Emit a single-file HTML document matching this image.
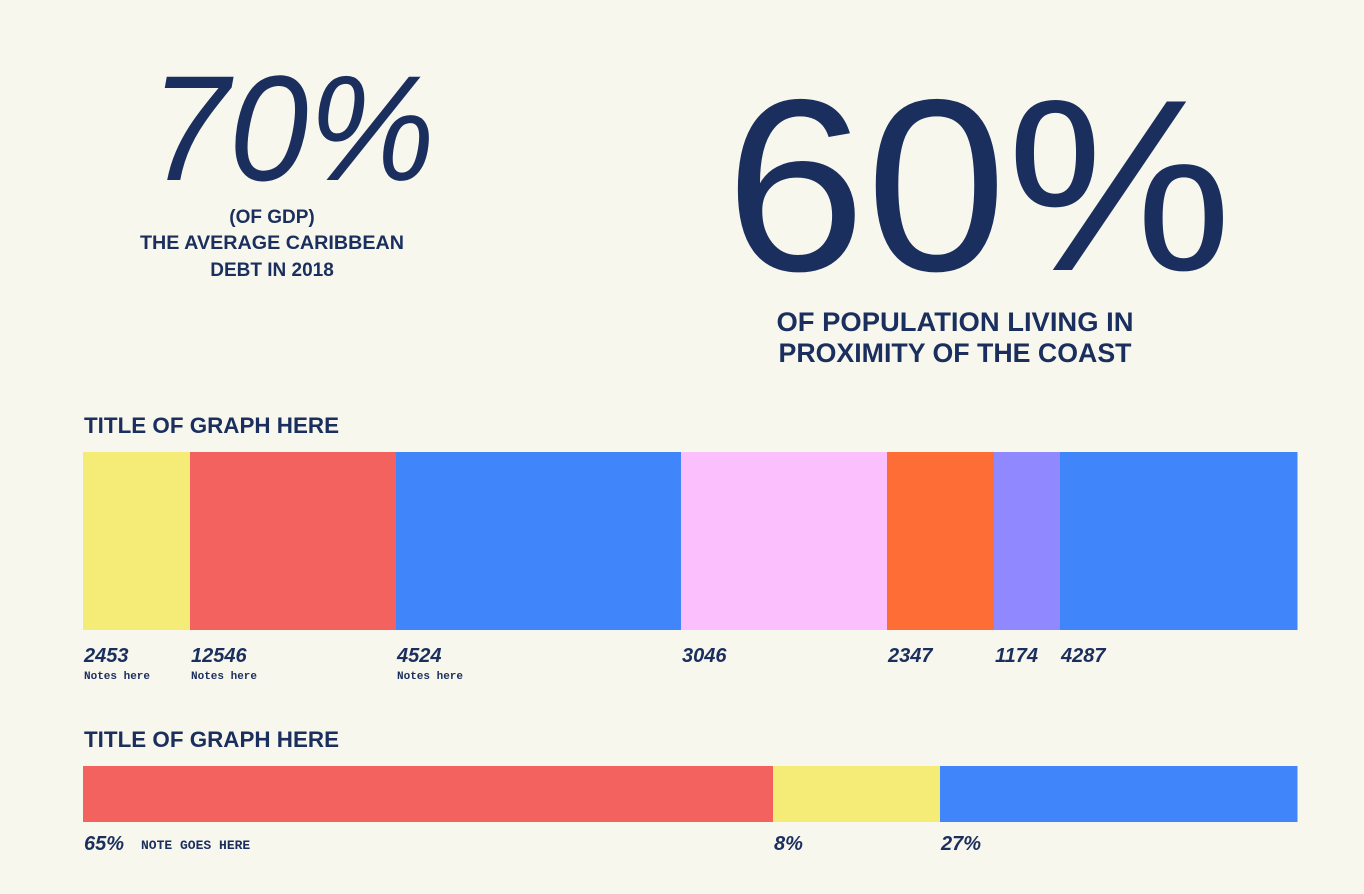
<!DOCTYPE html>
<html><head><meta charset="utf-8"><style>
html,body{margin:0;padding:0;background:#f8f7ee;}
svg{display:block;}
text{fill:#1b2f5e;font-family:"Liberation Sans",sans-serif;}
text.mono{font-family:"Liberation Mono",monospace;}
</style></head><body>
<svg id="s" width="1364" height="894" viewBox="0 0 1364 894">
<rect width="1364" height="894" fill="#f8f7ee"/>
<text x="150" y="180" font-size="150" font-style="italic" textLength="285" lengthAdjust="spacingAndGlyphs">70%</text>
<g font-weight="bold" font-size="19" text-anchor="middle">
<text x="272" y="223">(OF GDP)</text>
<text x="272" y="249" textLength="264" lengthAdjust="spacingAndGlyphs">THE AVERAGE CARIBBEAN</text>
<text x="272" y="276">DEBT IN 2018</text>
</g>
<text x="725" y="270" font-size="245" textLength="507" lengthAdjust="spacingAndGlyphs">60%</text>
<g font-weight="bold" font-size="27" text-anchor="middle">
<text x="955" y="331" textLength="357" lengthAdjust="spacingAndGlyphs">OF POPULATION LIVING IN</text>
<text x="955" y="362" textLength="353" lengthAdjust="spacingAndGlyphs">PROXIMITY OF THE COAST</text>
</g>
<text x="84" y="433" font-size="22" font-weight="bold" textLength="255" lengthAdjust="spacingAndGlyphs">TITLE OF GRAPH HERE</text>
<text x="84" y="747" font-size="22" font-weight="bold" textLength="255" lengthAdjust="spacingAndGlyphs">TITLE OF GRAPH HERE</text>
<g id="g1"></g><g id="g2"></g>
</svg>
<script>
const shares1 = [107, 206, 285, 206, 107, 66, 237];
const labels1 = ["2453", "12546", "4524", "3046", "2347", "1174", "4287"];
const notes1 = ["Notes here", "Notes here", "Notes here", "", "", "", ""];
const colors1 = ["#f5ec78", "#f4625f", "#4185fa", "#fbbffd", "#ff6d37", "#8f88fe", "#4185fa"];
const shares2 = [690, 167, 357];
const labels2 = ["65%", "8%", "27%"];
const notes2 = ["NOTE GOES HERE", "", ""];
const colors2 = ["#f4625f", "#f5ec78", "#4185fa"];
const NS = "http://www.w3.org/2000/svg";
function draw(gid, shares, labels, notes, colors, y, h, ly, noteInline) {
  const g = document.getElementById(gid);
  const total = shares.reduce((a, b) => a + b, 0);
  const x0 = 83, W = 1214;
  const xs = v => x0 + v / total * W;
  let acc = 0;
  shares.forEach((v, i) => {
    const r = document.createElementNS(NS, "rect");
    
    
    r.setAttribute("x", xs(acc)); r.setAttribute("y", y);
    r.setAttribute("width", xs(acc + v) - xs(acc) + 0.5); r.setAttribute("height", h);
    r.setAttribute("fill", colors[i]);
    g.appendChild(r);
    const t = document.createElementNS(NS, "text");
    
    
    t.setAttribute("x", xs(acc) + 1); t.setAttribute("y", ly);
    t.setAttribute("font-size", "20"); t.setAttribute("font-style", "italic"); t.setAttribute("font-weight", "bold");
    t.textContent = labels[i];
    g.appendChild(t);
    if (notes[i]) {
      const n = document.createElementNS(NS, "text");
      
      
      n.setAttribute("class", "mono");
      n.setAttribute("font-weight", "bold");
      if (noteInline) { n.setAttribute("x", xs(acc) + 58); n.setAttribute("y", ly - 1); n.setAttribute("font-size", "13"); }
      else { n.setAttribute("x", xs(acc) + 1); n.setAttribute("y", ly + 17); n.setAttribute("font-size", "11"); }
      n.textContent = notes[i];
      g.appendChild(n);
    }
    acc += v;
  });
}
draw("g1", shares1, labels1, notes1, colors1, 452, 178, 662, false);
draw("g2", shares2, labels2, notes2, colors2, 766, 56, 850, true);
</script>
</body></html>
